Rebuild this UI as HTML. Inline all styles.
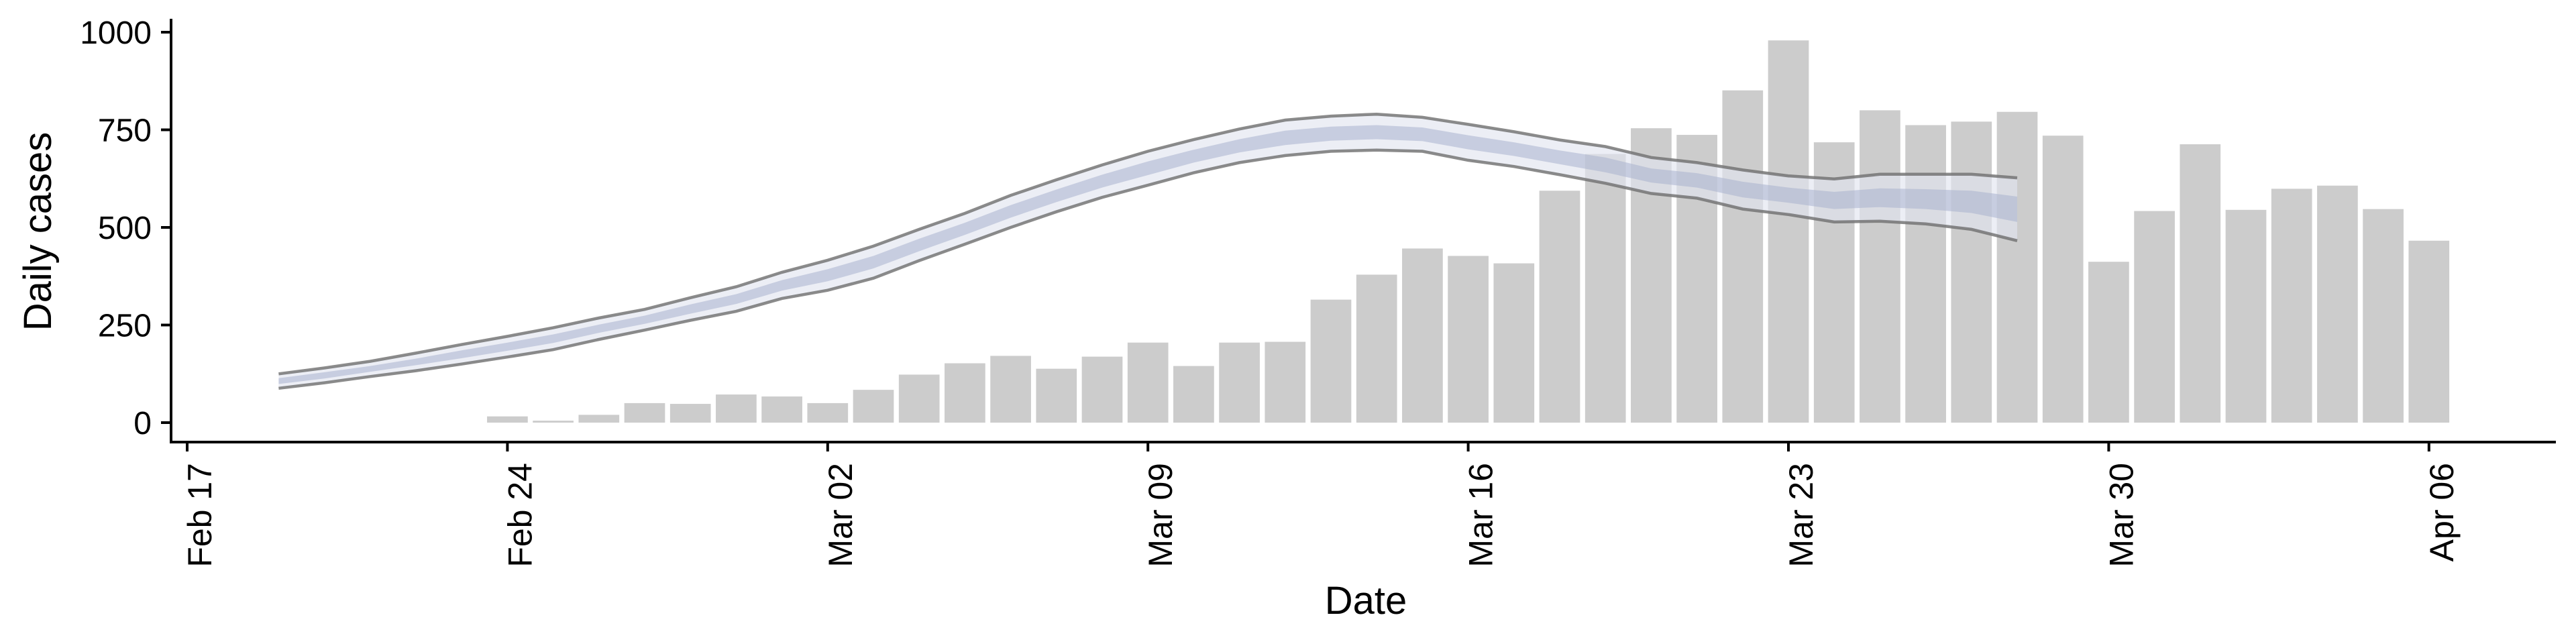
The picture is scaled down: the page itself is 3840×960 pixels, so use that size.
<!DOCTYPE html>
<html><head><meta charset="utf-8"><style>
html,body{margin:0;padding:0;background:#fff;}
svg{display:block;font-family:"Liberation Sans",sans-serif;}
</style></head><body>
<svg id="chart" width="3840" height="960" viewBox="0 0 3840 960" xmlns="http://www.w3.org/2000/svg">
<g id="bars"></g>
<g id="ribbon"></g>
<g id="axes"></g>
</svg>
<script>
const barValues = [16,5,20,50,48,72,67,50,84,123,152,171,138,169,205,145,205,207,315,379,446,427,408,594,688,754,737,851,979,718,800,762,771,796,735,412,542,713,545,599,607,547,466];
const barStartDay = 7; // Feb 24 (days after Feb 17)
const ribbonStartDay = 2; // Feb 19
const outerUpper = [125,140,157,178,200,221,243,268,290,320,348,385,416,452,495,536,582,622,660,695,725,752,775,785,790,782,764,745,724,707,679,666,647,632,624,636,636,636,627];
const outerLower = [88,102,118,133,150,168,187,213,237,262,285,318,339,370,415,457,500,540,577,608,640,666,684,695,698,695,672,656,635,613,587,575,547,533,514,516,509,495,466];
const innerUpper = [114,129,145,164,185,205,226,251,274,303,329,365,393,427,471,512,557,597,635,669,699,726,748,758,762,756,736,718,697,679,651,639,617,602,591,600,598,594,579];
const innerLower = [99,113,130,147,165,184,204,230,253,279,304,338,362,395,439,481,525,565,602,634,666,692,711,722,726,721,700,683,662,641,615,602,577,563,547,552,547,537,514];
const yTicks = [0,250,500,750,1000];
const xTickDays = [0,7,14,21,28,35,42,49];
const xTickLabels = ["Feb 17","Feb 24","Mar 02","Mar 09","Mar 16","Mar 23","Mar 30","Apr 06"];

const NS = "http://www.w3.org/2000/svg";
const X0 = 279, DAY = 68.2, Y0 = 630, YS = 0.582;
function xs(d){ return X0 + d*DAY; }
function ys(v){ return Y0 - v*YS; }
function mk(tag, attrs, parent){
  const e = document.createElementNS(NS, tag);
  for (const k in attrs) e.setAttribute(k, attrs[k]);
  parent.appendChild(e); return e;
}
const gb = document.getElementById('bars');
const bw = DAY*0.89;
barValues.forEach((v,i)=>{
  const cx = xs(barStartDay+i);
  const r = mk('rect',{x:cx-bw/2,y:ys(v),width:bw,height:Y0-ys(v),fill:'#cccccc'},gb);
  
  
});
const gr = document.getElementById('ribbon');
function band(up, lo){
  let d = up.map((v,i)=>(i?'L':'M')+xs(ribbonStartDay+i).toFixed(1)+','+ys(v).toFixed(1)).join(' ');
  for (let i=lo.length-1;i>=0;i--) d += ' L'+xs(ribbonStartDay+i).toFixed(1)+','+ys(lo[i]).toFixed(1);
  return d+' Z';
}
function line(arr){
  return arr.map((v,i)=>(i?'L':'M')+xs(ribbonStartDay+i).toFixed(1)+','+ys(v).toFixed(1)).join(' ');
}
const ob = mk('path',{d:band(outerUpper,outerLower),fill:'rgba(226,229,240,0.65)'},gr);


const ib = mk('path',{d:band(innerUpper,innerLower),fill:'rgba(170,178,205,0.55)'},gr);


const lu = mk('path',{d:line(outerUpper),fill:'none',stroke:'rgba(110,110,110,0.8)','stroke-width':4.5},gr);


const ll = mk('path',{d:line(outerLower),fill:'none',stroke:'rgba(110,110,110,0.8)','stroke-width':4.5},gr);



const ga = document.getElementById('axes');
const ya = mk('line',{x1:255,y1:28,x2:255,y2:661,stroke:'#000','stroke-width':4},ga);


const xa = mk('line',{x1:253,y1:659,x2:3810,y2:659,stroke:'#000','stroke-width':4},ga);


yTicks.forEach(v=>{
  const t = mk('line',{x1:240,y1:ys(v),x2:255,y2:ys(v),stroke:'#000','stroke-width':4},ga);
  
  
  const l = mk('text',{x:226,y:ys(v)+17,'text-anchor':'end','font-size':48,fill:'#000'},ga);
  l.textContent = v;
  
  
});
xTickDays.forEach((d,i)=>{
  const x = xs(d);
  const t = mk('line',{x1:x,y1:659,x2:x,y2:673,stroke:'#000','stroke-width':4},ga);
  
  
  const l = mk('text',{x:0,y:0,'text-anchor':'end','font-size':50,fill:'#000',transform:'translate('+(x+36)+',690) rotate(-90)'},ga);
  l.textContent = xTickLabels[i];
  
  
});
const yt = mk('text',{x:0,y:0,'text-anchor':'middle','font-size':58,fill:'#000',transform:'translate(76,345) rotate(-90)'},ga);
yt.textContent = 'Daily cases';


const xt = mk('text',{x:2036,y:915,'text-anchor':'middle','font-size':58,fill:'#000'},ga);
xt.textContent = 'Date';


</script>
</body></html>
